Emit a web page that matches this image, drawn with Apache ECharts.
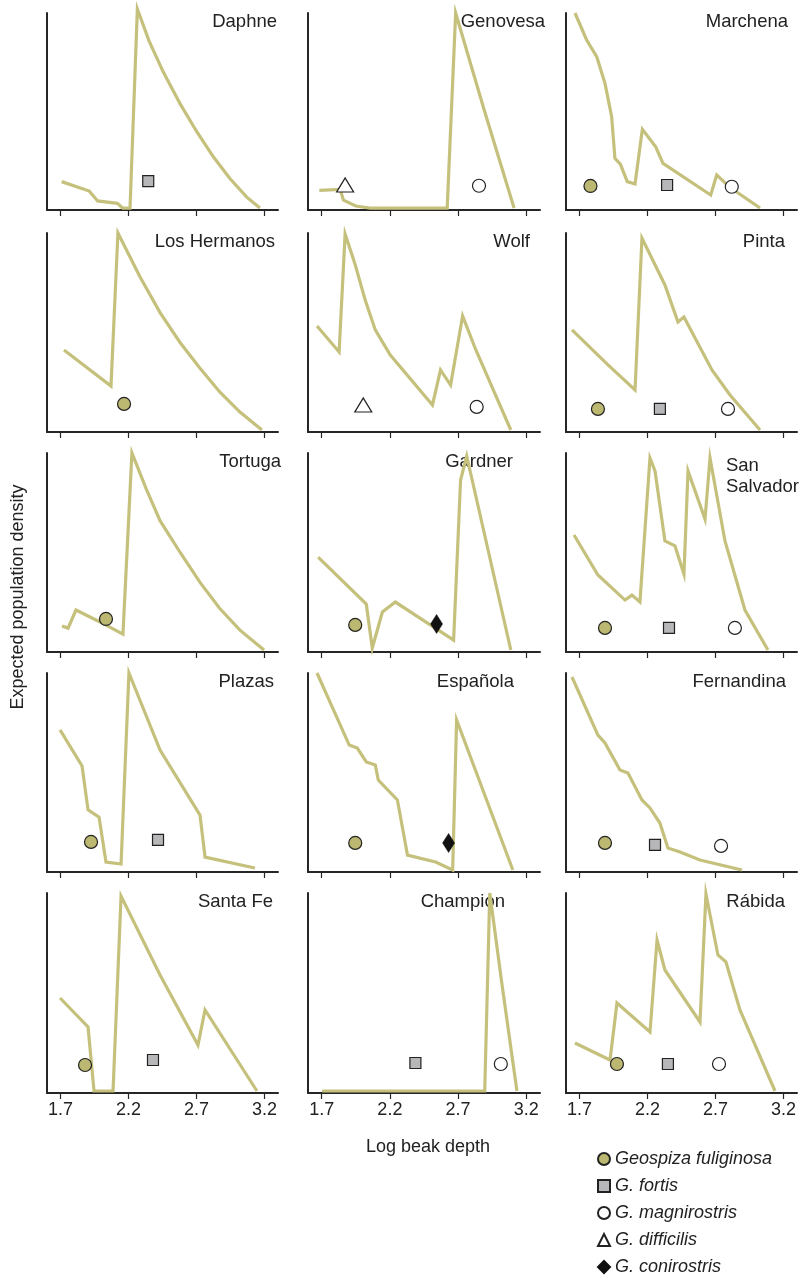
<!DOCTYPE html>
<html>
<head>
<meta charset="utf-8">
<script src="https://cdn.jsdelivr.net/npm/echarts@6/dist/echarts.min.js"></script>
<style>
  html, body { margin: 0; padding: 0; background: #fff; }
  #chart { width: 803px; height: 1280px; }
</style>
</head>
<body>
<div id="chart"></div>
<script>
// Island panels, in reading order (3 columns x 5 rows)
const islands = ['Daphne', 'Genovesa', 'Marchena',
                 'Los Hermanos', 'Wolf', 'Pinta',
                 'Tortuga', 'Gardner', 'San Salvador',
                 'Plazas', 'Española', 'Fernandina',
                 'Santa Fe', 'Champion', 'Rábida'];

// Expected population density curves: [log beak depth, relative density]
const curveDaphne = [[1.708,0.144],[1.911,0.096],[1.973,0.046],[2.117,0.034],[2.157,0.01],[2.211,0.01],[2.265,1.02],[2.35,0.86],[2.456,0.70],[2.579,0.54],[2.70,0.40],[2.824,0.27],[2.946,0.16],[3.07,0.065],[3.167,0.01]];
const curveGenovesa = [[1.683,0.10],[1.835,0.105],[1.86,0.05],[1.95,0.02],[2.056,0.01],[2.62,0.01],[2.682,1.0],[2.89,0.51],[3.11,0.01]];
const curveMarchena = [[1.666,1.0],[1.752,0.863],[1.826,0.778],[1.887,0.643],[1.936,0.474],[1.96,0.262],[2.0,0.233],[2.051,0.144],[2.108,0.132],[2.162,0.41],[2.26,0.321],[2.314,0.237],[2.665,0.076],[2.709,0.178],[2.80,0.118],[3.028,0.01]];
const curveLosHermanos = [[1.725,0.412],[2.071,0.231],[2.122,1.0],[2.284,0.78],[2.432,0.60],[2.579,0.45],[2.726,0.32],[2.873,0.20],[3.02,0.10],[3.182,0.01]];
const curveWolf = [[1.666,0.533],[1.828,0.402],[1.872,0.995],[1.946,0.84],[2.019,0.663],[2.093,0.513],[2.203,0.387],[2.512,0.136],[2.571,0.312],[2.645,0.236],[2.733,0.583],[2.83,0.412],[3.086,0.01]];
const curvePinta = [[1.644,0.513],[1.909,0.337],[2.108,0.211],[2.159,0.975],[2.328,0.739],[2.424,0.553],[2.468,0.578],[2.674,0.312],[2.807,0.186],[3.028,0.01]];
const curveTortuga = [[1.71,0.131],[1.755,0.12],[1.813,0.211],[1.99,0.151],[2.159,0.09],[2.225,1.0],[2.33,0.82],[2.432,0.66],[2.58,0.50],[2.726,0.35],[2.87,0.22],[3.02,0.11],[3.197,0.01]];
const curveGardner = [[1.674,0.477],[2.027,0.241],[2.071,0.02],[2.145,0.201],[2.24,0.251],[2.667,0.06],[2.718,0.864],[2.763,0.985],[3.086,0.01]];
const curveSanSalvador = [[1.659,0.588],[1.835,0.387],[2.034,0.261],[2.085,0.286],[2.144,0.251],[2.218,0.975],[2.255,0.91],[2.328,0.558],[2.402,0.533],[2.468,0.392],[2.498,0.91],[2.623,0.668],[2.66,0.975],[2.77,0.558],[2.917,0.211],[3.086,0.01]];
const curvePlazas = [[1.696,0.714],[1.858,0.533],[1.902,0.312],[1.983,0.276],[2.034,0.05],[2.145,0.04],[2.203,1.0],[2.432,0.613],[2.726,0.286],[2.763,0.075],[3.13,0.02]];
const curveEspanola = [[1.666,1.0],[1.902,0.638],[1.961,0.623],[2.027,0.553],[2.093,0.538],[2.115,0.462],[2.255,0.362],[2.329,0.085],[2.535,0.05],[2.66,0.01],[2.689,0.764],[3.101,0.01]];
const curveFernandina = [[1.644,0.98],[1.835,0.688],[1.887,0.648],[1.997,0.513],[2.056,0.497],[2.159,0.362],[2.218,0.322],[2.291,0.246],[2.35,0.121],[2.439,0.1],[2.586,0.06],[2.895,0.01]];
const curveSantaFe = [[1.696,0.475],[1.902,0.33],[1.946,0.01],[2.086,0.01],[2.145,0.985],[2.432,0.59],[2.711,0.24],[2.763,0.415],[3.145,0.01]];
const curveChampion = [[1.703,0.01],[2.895,0.01],[2.932,1.0],[3.02,0.55],[3.131,0.01]];
const curveRabida = [[1.666,0.25],[1.924,0.165],[1.975,0.45],[2.218,0.305],[2.27,0.765],[2.328,0.615],[2.586,0.355],[2.63,0.995],[2.718,0.69],[2.777,0.655],[2.88,0.415],[3.138,0.01]];

const curves = [curveDaphne, curveGenovesa, curveMarchena, curveLosHermanos, curveWolf, curvePinta,
                curveTortuga, curveGardner, curveSanSalvador, curvePlazas, curveEspanola, curveFernandina,
                curveSantaFe, curveChampion, curveRabida];

// Observed mean beak depth of each species on each island: [island, log beak depth, height]
const fuliginosa = [['Marchena',1.78,0.122],['Los Hermanos',2.167,0.141],['Pinta',1.835,0.116],['Tortuga',2.034,0.166],['Gardner',1.946,0.136],['San Salvador',1.887,0.121],['Plazas',1.924,0.151],['Española',1.946,0.146],['Fernandina',1.887,0.146],['Santa Fe',1.88,0.14],['Rábida',1.975,0.145]];
const fortis = [['Daphne',2.345,0.147],['Marchena',2.344,0.127],['Pinta',2.291,0.116],['San Salvador',2.358,0.121],['Plazas',2.417,0.161],['Fernandina',2.255,0.136],['Santa Fe',2.38,0.165],['Champion',2.387,0.15],['Rábida',2.35,0.145]];
const magnirostris = [['Genovesa',2.853,0.123],['Marchena',2.82,0.118],['Wolf',2.836,0.126],['Pinta',2.792,0.116],['San Salvador',2.843,0.121],['Fernandina',2.741,0.131],['Champion',3.013,0.145],['Rábida',2.726,0.145]];
const difficilis = [['Genovesa',1.872,0.127],['Wolf',2.005,0.136]];
const conirostris = [['Gardner',2.542,0.141],['Española',2.63,0.146]];

const xTicks = [1.7, 2.2, 2.7, 3.2];

const colLeft = [47, 308, 566];
const colWidth = [231, 232, 231];
const rowTop = [13, 233, 453, 673, 893];
const rowBottom = [210, 432, 652, 872, 1093];
const titleRight = [277, 545, 788, 275, 530, 785, 281, 513, 799, 274, 514, 786, 273, 505, 785];

const curveColor = '#c5c17c';
const axisColor = '#262626';
const FONT = '"Liberation Sans", Arial, Helvetica, sans-serif';
const TITLE_FONT = '18.5px ' + FONT;

function textWidth(str, font) {
  const ctx = document.createElement('canvas').getContext('2d');
  ctx.font = font;
  return ctx.measureText(str).width;
}

const grids = [], xAxes = [], yAxes = [], series = [], graphics = [];

islands.forEach((name, i) => {
  const r = Math.floor(i / 3), c = i % 3;
  grids.push({ left: colLeft[c], top: rowTop[r], width: colWidth[c], height: rowBottom[r] - rowTop[r] });
  xAxes.push({
    gridIndex: i, type: 'value', min: 1.6, max: 3.3,
    splitLine: { show: false },
    axisLine: { show: true, onZero: false, lineStyle: { color: axisColor, width: 2 } },
    axisTick: { show: true, customValues: xTicks, length: 6, lineStyle: { color: axisColor, width: 1.2 } },
    axisLabel: { show: r === 4, customValues: xTicks, margin: 8, color: '#222', fontSize: 18, fontFamily: FONT,
                 formatter: v => v.toFixed(1) }
  });
  yAxes.push({
    gridIndex: i, type: 'value', min: 0, max: 1,
    splitLine: { show: false },
    axisLine: { show: true, lineStyle: { color: axisColor, width: 2 } },
    axisTick: { show: false }, axisLabel: { show: false }
  });
  series.push({
    type: 'line', xAxisIndex: i, yAxisIndex: i, data: curves[i],
    symbol: 'none', clip: false, z: 2,
    lineStyle: { color: curveColor, width: 3.2, join: 'miter' }
  });
});

function addSpecies(list, seriesName, symbol, size, style) {
  islands.forEach((isl, i) => {
    const pts = list.filter(p => p[0] === isl).map(p => [p[1], p[2]]);
    if (!pts.length) return;
    series.push({
      type: 'scatter', name: seriesName, xAxisIndex: i, yAxisIndex: i,
      data: pts, symbol: symbol, symbolSize: size, z: 5,
      itemStyle: Object.assign({ opacity: 1 }, style)
    });
  });
}

addSpecies(fuliginosa, 'Geospiza fuliginosa', 'circle', 13, { color: '#bdb871', borderColor: '#222', borderWidth: 1.2 });
addSpecies(fortis, 'G. fortis', 'rect', 11, { color: '#b7b7b9', borderColor: '#222', borderWidth: 1.2 });
addSpecies(magnirostris, 'G. magnirostris', 'circle', 13, { color: '#ffffff', borderColor: '#222', borderWidth: 1.2 });
addSpecies(difficilis, 'G. difficilis', 'triangle', [17, 14], { color: '#ffffff', borderColor: '#222', borderWidth: 1.2 });
addSpecies(conirostris, 'G. conirostris', 'diamond', [12, 19], { color: '#111111', borderColor: '#111111', borderWidth: 0.5 });

// Panel names, right-aligned in each panel's upper corner
islands.forEach((name, i) => {
  const r = Math.floor(i / 3);
  if (name === 'San Salvador') {
    const w = textWidth('Salvador', TITLE_FONT);
    graphics.push({ type: 'text', x: titleRight[i] - w, y: rowTop[r] + 2,
      style: { text: 'San\nSalvador', font: TITLE_FONT, fill: '#222', lineHeight: 21, align: 'left', verticalAlign: 'top' } });
  } else {
    graphics.push({ type: 'text', x: titleRight[i], y: rowTop[r] + 9,
      style: { text: name, font: TITLE_FONT, fill: '#222', align: 'right', verticalAlign: 'middle' } });
  }
});

graphics.push({ type: 'text', x: 428, y: 1147,
  style: { text: 'Log beak depth', font: '18px ' + FONT, fill: '#222', align: 'center', verticalAlign: 'middle' } });
graphics.push({ type: 'text', x: 18, y: 597, rotation: Math.PI / 2,
  style: { text: 'Expected population density', font: '18px ' + FONT, fill: '#222', align: 'center', verticalAlign: 'middle' } });

const chart = echarts.init(document.getElementById('chart'), null, { renderer: 'canvas' });
chart.setOption({
  animation: false,
  backgroundColor: '#ffffff',
  grid: grids,
  xAxis: xAxes,
  yAxis: yAxes,
  series: series,
  graphic: graphics,
  legend: {
    orient: 'vertical', left: 597, top: 1149, height: 131, width: 206,
    padding: 0,
    itemGap: 7, itemWidth: 12, itemHeight: 12,
    selectedMode: false,
    data: [
      { name: 'Geospiza fuliginosa', icon: 'circle' },
      { name: 'G. fortis', icon: 'rect' },
      { name: 'G. magnirostris', icon: 'circle' },
      { name: 'G. difficilis', icon: 'triangle' },
      { name: 'G. conirostris', icon: 'diamond' }
    ],
    textStyle: { fontSize: 18, fontStyle: 'italic', color: '#222', fontFamily: FONT, lineHeight: 20 }
  }
});
</script>
</body>
</html>
